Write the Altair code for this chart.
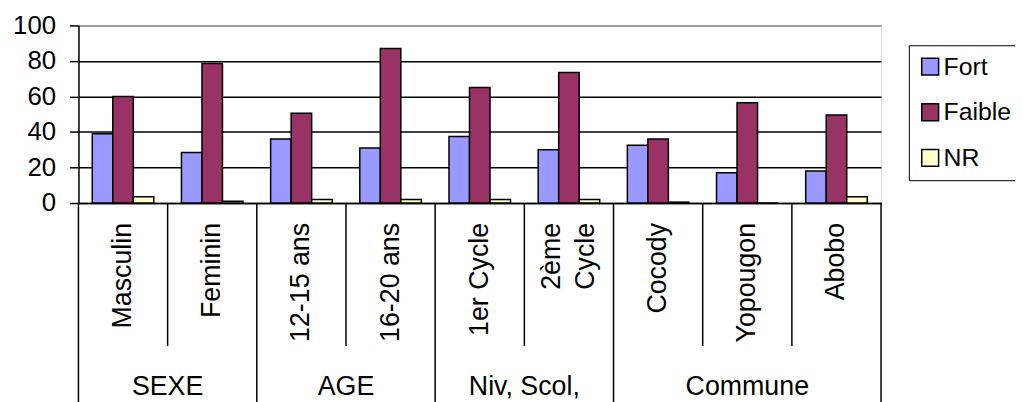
import altair as alt
import pandas as pd

categories = ["Masculin", "Feminin", "12-15 ans", "16-20 ans", "1er Cycle",
              "2ème\nCycle", "Cocody", "Yopougon", "Abobo"]
groups = ["SEXE", "AGE", "Niv, Scol,", "Commune"]
group_sizes = [2, 2, 2, 3]
series = ["Fort", "Faible", "NR"]
fort = [39, 28.5, 36, 31, 37.5, 30, 32.5, 17, 18]
faible = [60, 78.5, 50.5, 87, 65, 73.5, 36, 56.5, 49.5]
nr = [3.5, 1, 2, 2, 2, 2, 0.5, 0, 3.5]
colors = ["#9999FF", "#993366", "#FFFFCC"]
y_ticks = [0, 20, 40, 60, 80, 100]

rows = []
for i, c in enumerate(categories):
    for s, vals in zip(series, [fort, faible, nr]):
        rows.append({"cat": c, "serie": s, "value": vals[i]})
bars_df = pd.DataFrame(rows)

cat_df = pd.DataFrame({"label": categories, "pos": [i + 0.5 for i in range(len(categories))]})
cat_df["multi"] = cat_df["label"].str.contains("\n")
single_df = cat_df[~cat_df["multi"]]
multi_df = cat_df[cat_df["multi"]]

inner, outer, gcent = [], [0], []
start = 0
for g, n in zip(groups, group_sizes):
    for k in range(1, n):
        inner.append(start + k)
    gcent.append(start + n / 2)
    start += n
    outer.append(start)
inner_df = pd.DataFrame({"pos": inner})
outer_df = pd.DataFrame({"pos": outer})
group_df = pd.DataFrame({"label": groups, "pos": gcent})

W, H = 809, 179
FONT = "Liberation Sans"
FS = 27
LH = 34
qx = alt.Scale(domain=[0, len(categories)], nice=False, zero=False)

bars = alt.Chart(bars_df).mark_bar(stroke="black", strokeWidth=1.5).encode(
    x=alt.X("cat:N", sort=categories,
            scale=alt.Scale(paddingInner=0.31, paddingOuter=0.155),
            axis=alt.Axis(labels=False, ticks=False, title=None,
                          domainColor="black", domainWidth=1.5)),
    xOffset=alt.XOffset("serie:N", sort=series,
                        scale=alt.Scale(paddingInner=0, paddingOuter=0)),
    y=alt.Y("value:Q", scale=alt.Scale(domain=[0, 100], nice=False),
            axis=alt.Axis(values=y_ticks, title=None, labelFontSize=26,
                          labelColor="black", labelFont=FONT,
                          tickColor="black", tickSize=9, tickWidth=1.5,
                          domainColor="black", domainWidth=1.5,
                          labelPadding=14, grid=True,
                          gridColor={"condition": {"test": "datum.value === 100", "value": "#808080"},
                                     "value": "black"},
                          gridWidth=1.5)),
    color=alt.Color("serie:N", sort=series,
                    scale=alt.Scale(domain=series, range=colors),
                    legend=alt.Legend(title=None, orient="none", legendX=837, legendY=20,
                                      direction="vertical",
                                      strokeColor="black", fillColor="white",
                                      padding=9, symbolType="square", symbolSize=289,
                                      symbolStrokeColor="black", symbolStrokeWidth=1.5,
                                      labelFontSize=25, labelFont=FONT, labelColor="black",
                                      labelOffset=1, rowPadding=20)),
)

inner_rules = alt.Chart(inner_df).mark_rule(color="black", strokeWidth=1.5).encode(
    x=alt.X("pos:Q", scale=qx, axis=None),
    y=alt.value(H), y2=alt.value(H + 144),
)
outer_rules = alt.Chart(outer_df).mark_rule(color="black", strokeWidth=1.5).encode(
    x=alt.X("pos:Q", scale=qx, axis=None),
    y=alt.value(H), y2=alt.value(H + 220),
)
cat_text = alt.Chart(single_df).mark_text(angle=270, align="right", baseline="middle",
                                          fontSize=FS, font=FONT, color="black").encode(
    x=alt.X("pos:Q", scale=qx, axis=None),
    y=alt.value(H + 20),
    text="label:N",
)
cat_text_multi = alt.Chart(multi_df).mark_text(angle=270, align="right", baseline="middle",
                                               fontSize=FS, font=FONT, color="black",
                                               lineBreak="\n", lineHeight=LH, dy=-LH / 2).encode(
    x=alt.X("pos:Q", scale=qx, axis=None),
    y=alt.value(H + 20),
    text="label:N",
)
group_text = alt.Chart(group_df).mark_text(align="center", baseline="middle",
                                           fontSize=FS, font=FONT, color="black").encode(
    x=alt.X("pos:Q", scale=qx, axis=None),
    y=alt.value(H + 186),
    text="label:N",
)

chart = alt.layer(bars, inner_rules, outer_rules, cat_text, cat_text_multi, group_text).resolve_scale(
    x="independent"
).properties(
    width=W, height=H,
    autosize=alt.AutoSizeParams(type="none"),
    padding={"left": 71, "top": 16, "right": 135, "bottom": 199},
    background="white",
).configure_view(
    stroke="#808080", strokeWidth=1.5, fill="#C0C0C0"
).configure(font=FONT)

chart.save("out.html", embed_options={"renderer": "svg", "actions": False})
